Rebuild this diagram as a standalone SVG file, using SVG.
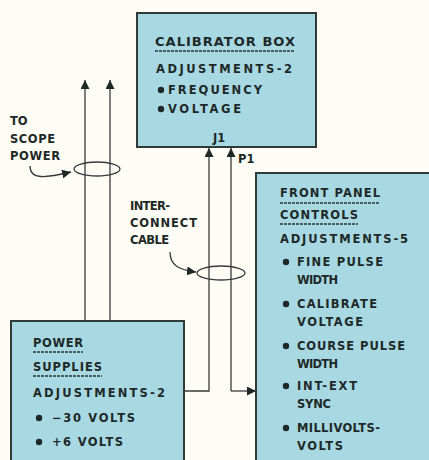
<svg xmlns="http://www.w3.org/2000/svg" width="429" height="460" viewBox="0 0 429 460">
<defs>
<style>
.box{fill:#a8d9e3;stroke:#2f3b39;stroke-width:2}
.t{font-family:"DejaVu Sans","Liberation Sans",Arial,sans-serif;font-size:11.5px;font-weight:bold;fill:#1e2927}
.h{font-size:13px}
.ul{stroke:#2a3533;stroke-width:1.5}
.ln{fill:none;stroke:#3a3a3a;stroke-width:1.3}
.dot{fill:#1e2927}
</style>
<marker id="ah" viewBox="0 0 10 10" refX="10" refY="5" markerWidth="9" markerHeight="9" markerUnits="userSpaceOnUse" orient="auto">
<path d="M0,0 L10,5 L0,10 z" fill="#1e2927"/>
</marker>
</defs>
<rect width="429" height="460" fill="#fdfcf5"/>

<g id="connectors">
<path class="ln" d="M85,321 V80" marker-end="url(#ah)"/>
<path class="ln" d="M110,321 V80" marker-end="url(#ah)"/>
<ellipse class="ln" cx="97" cy="169" rx="23" ry="7"/>
<path class="ln" d="M30,166 C30,180 45,178 71,172" marker-end="url(#ah)"/>
<path class="ln" d="M184,391 H209 V148" marker-end="url(#ah)"/>
<path class="ln" d="M231,391 V148" marker-end="url(#ah)"/>
<path class="ln" d="M231,391 H256" marker-end="url(#ah)"/>
<ellipse class="ln" cx="221" cy="273" rx="24" ry="7"/>
<path class="ln" d="M170,252 C170,266 180,270 196,272" marker-end="url(#ah)"/>
</g>

<g id="calibrator-box">
<rect class="box" x="137" y="13" width="179" height="134"/>
<text class="t h" x="155" y="46" textLength="140" lengthAdjust="spacing">CALIBRATOR BOX</text>
<line class="ul" x1="155" y1="51" x2="295" y2="51" stroke-dasharray="3 1"/>
<text class="t" x="156" y="73" textLength="136" lengthAdjust="spacing">ADJUSTMENTS-2</text>
<circle class="dot" cx="161" cy="90" r="3.2"/>
<text class="t" x="168" y="94" textLength="94" lengthAdjust="spacing">FREQUENCY</text>
<circle class="dot" cx="161" cy="109" r="3.2"/>
<text class="t" x="168" y="113" textLength="73" lengthAdjust="spacing">VOLTAGE</text>
<text class="t" x="213" y="142">J1</text>
</g>
<text class="t" x="238" y="163">P1</text>

<g id="front-panel-controls">
<rect class="box" x="256" y="173" width="180" height="300"/>
<text class="t" x="280" y="197" textLength="100" lengthAdjust="spacing">FRONT PANEL</text>
<line class="ul" x1="280" y1="203" x2="380" y2="203" stroke-dasharray="3 1"/>
<text class="t" x="280" y="219" textLength="78" lengthAdjust="spacing">CONTROLS</text>
<line class="ul" x1="280" y1="224" x2="358" y2="224" stroke-dasharray="3 1"/>
<text class="t" x="280" y="243" textLength="128" lengthAdjust="spacing">ADJUSTMENTS-5</text>
<circle class="dot" cx="286" cy="262" r="3.2"/>
<text class="t" x="297" y="266" textLength="86" lengthAdjust="spacing">FINE PULSE</text>
<text class="t" x="297" y="284" textLength="41" lengthAdjust="spacing">WIDTH</text>
<circle class="dot" cx="286" cy="304" r="3.2"/>
<text class="t" x="297" y="308" textLength="80" lengthAdjust="spacing">CALIBRATE</text>
<text class="t" x="297" y="326" textLength="66" lengthAdjust="spacing">VOLTAGE</text>
<circle class="dot" cx="286" cy="346" r="3.2"/>
<text class="t" x="297" y="350" textLength="108" lengthAdjust="spacing">COURSE PULSE</text>
<text class="t" x="297" y="368" textLength="41" lengthAdjust="spacing">WIDTH</text>
<circle class="dot" cx="286" cy="386" r="3.2"/>
<text class="t" x="297" y="390" textLength="60" lengthAdjust="spacing">INT-EXT</text>
<text class="t" x="297" y="408" textLength="34" lengthAdjust="spacing">SYNC</text>
<circle class="dot" cx="286" cy="428" r="3.2"/>
<text class="t" x="297" y="432" textLength="83" lengthAdjust="spacing">MILLIVOLTS-</text>
<text class="t" x="297" y="450" textLength="46" lengthAdjust="spacing">VOLTS</text>
</g>

<g id="power-supplies">
<rect class="box" x="11" y="321" width="173" height="150"/>
<text class="t" x="33" y="347" textLength="50" lengthAdjust="spacing">POWER</text>
<line class="ul" x1="33" y1="352" x2="83" y2="352" stroke-dasharray="3 1"/>
<text class="t" x="33" y="371" textLength="69" lengthAdjust="spacing">SUPPLIES</text>
<line class="ul" x1="33" y1="376" x2="102" y2="376" stroke-dasharray="3 1"/>
<text class="t" x="33" y="397" textLength="132" lengthAdjust="spacing">ADJUSTMENTS-2</text>
<circle class="dot" cx="39" cy="418" r="3.2"/>
<text class="t" x="52" y="422" textLength="83" lengthAdjust="spacing">−30 VOLTS</text>
<circle class="dot" cx="39" cy="442" r="3.2"/>
<text class="t" x="52" y="446" textLength="71" lengthAdjust="spacing">+6 VOLTS</text>
</g>

<g id="labels">
<text class="t" x="10" y="125">TO</text>
<text class="t" x="10" y="143" textLength="45" lengthAdjust="spacing">SCOPE</text>
<text class="t" x="10" y="160" textLength="50" lengthAdjust="spacing">POWER</text>
<text class="t" x="130" y="210" textLength="40" lengthAdjust="spacing">INTER-</text>
<text class="t" x="130" y="227" textLength="67" lengthAdjust="spacing">CONNECT</text>
<text class="t" x="130" y="244" textLength="39" lengthAdjust="spacing">CABLE</text>
</g>
</svg>
